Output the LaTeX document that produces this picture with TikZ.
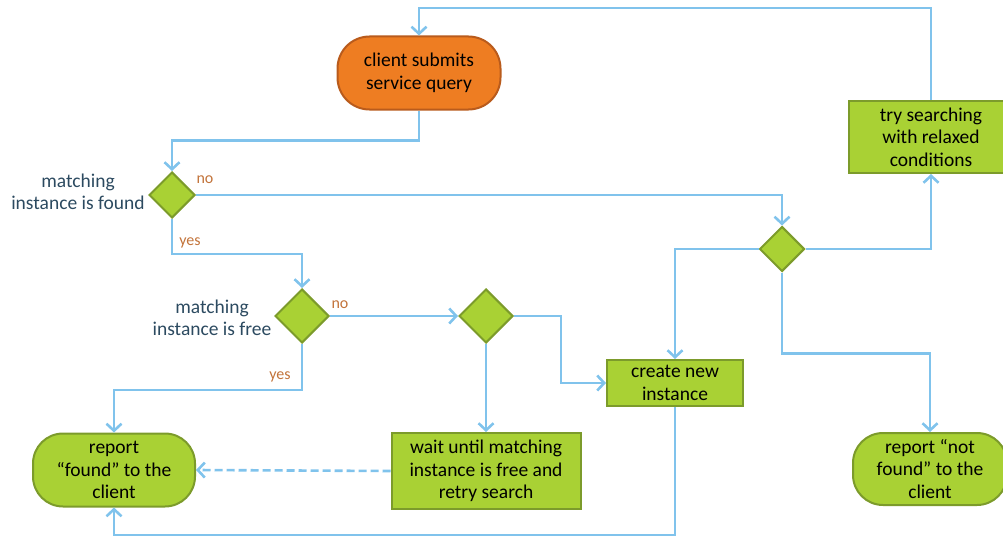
\documentclass[tikz,border=0pt]{standalone}
\usepackage{fontspec}
\setmainfont{Carlito}
\usetikzlibrary{shapes.geometric,arrows.meta}

\definecolor{boxgreen}{HTML}{A9D134}
\definecolor{boxgreenline}{HTML}{7C9B2B}
\definecolor{boxorange}{HTML}{EE7D22}
\definecolor{boxorangeline}{HTML}{B95B1C}
\definecolor{flowblue}{HTML}{80C3EC}
\definecolor{labelblue}{HTML}{2C4A60}
\definecolor{answer}{HTML}{C2733A}

\tikzset{
  boxtext/.style={font=\fontsize{19.5}{22.5}\selectfont, text=black, align=center, inner sep=0pt},
  actbox/.style={boxtext, draw=boxgreenline, fill=boxgreen, line width=2pt},
  endbox/.style={actbox, rounded corners=30pt},
  startbox/.style={boxtext, draw=boxorangeline, fill=boxorange, line width=2pt, rounded corners=32pt},
  decision/.style={diamond, aspect=1, inner sep=0pt, draw=boxgreenline, fill=boxgreen, line width=2pt},
  condlabel/.style={font=\fontsize{19.5}{22.5}\selectfont, text=labelblue, align=center, inner sep=0pt},
  answerlabel/.style={font=\fontsize{16}{18}\selectfont, text=answer, inner sep=0pt},
  conn/.style={draw=flowblue, line width=2.6pt, -{Straight Barb[length=7pt,width=15pt,line width=2.6pt]}},
  dashconn/.style={conn, dash pattern=on 8pt off 4pt}
}

\begin{document}
\begin{tikzpicture}[x=1pt, y=-1pt]
  \useasboundingbox (0,0) rectangle (1003,535);
  \clip (0,0) rectangle (1003,535);

  % process steps
  \node[startbox, minimum width=163pt, minimum height=73pt] (start) at (419,73) {client submits\\service query};
  \node[actbox, minimum width=164pt, minimum height=72pt] (try) at (931,137) {try searching\\with relaxed\\conditions};
  \node[actbox, minimum width=136pt, minimum height=46pt] (create) at (675,383) {create new\\instance};
  \node[actbox, minimum width=189pt, minimum height=76pt] (wait) at (486,471) {wait until matching\\instance is free and\\retry search};
  \node[endbox, minimum width=162pt, minimum height=73pt] (found) at (114,470) {report\\“found” to the\\client};
  \node[endbox, minimum width=154pt, minimum height=72pt] (notfound) at (930,469) {report “not\\found” to the\\client};

  % decisions
  \node[decision, minimum width=46pt, minimum height=46pt] (d1) at (172,195) {};
  \node[decision, minimum width=54pt, minimum height=54pt] (d2) at (302,316) {};
  \node[decision, minimum width=54pt, minimum height=54pt] (d3) at (486,316) {};
  \node[decision, minimum width=45pt, minimum height=45pt] (d4) at (782,249) {};

  % decision captions
  \node[condlabel] (q1) at (78,192) {matching\\instance is found};
  \node[condlabel] (q2) at (212,318) {matching\\instance is free};
  \node[answerlabel] (no1) at (205,180) {no};
  \node[answerlabel] (yes1) at (190,243) {yes};
  \node[answerlabel] (no2) at (340,305) {no};
  \node[answerlabel] (yes2) at (280,377) {yes};

  % connectors
  \draw[conn] (start.south) -- ++(0,30) -| (d1.north);
  \draw[conn] (d1.east) -| (d4.north);
  \draw[conn] (d1.south) -- ++(0,35) -| (d2.north);
  \draw[conn] (d2.east) -- (d3.west);
  \draw[conn] (d2.south) -- ++(0,46) -| (found.north);
  \draw[conn] (d3.south) -- (wait.north);
  \draw[conn] (d3.east) -- ++(47,0) |- (create.west);
  \draw[conn] (d4.west) -| (create.north);
  \draw[conn] (d4.east) -| (try.south);
  \draw[conn] (d4.south) -- ++(0,81) -| (notfound.north);
  \draw[conn] (try.north) -- ++(0,-92) -| (start.north);
  \draw[conn] (create.south) -- ++(0,128) -| (found.south);
  \draw[dashconn] (wait.west) -- (found.east);
\end{tikzpicture}
\end{document}
